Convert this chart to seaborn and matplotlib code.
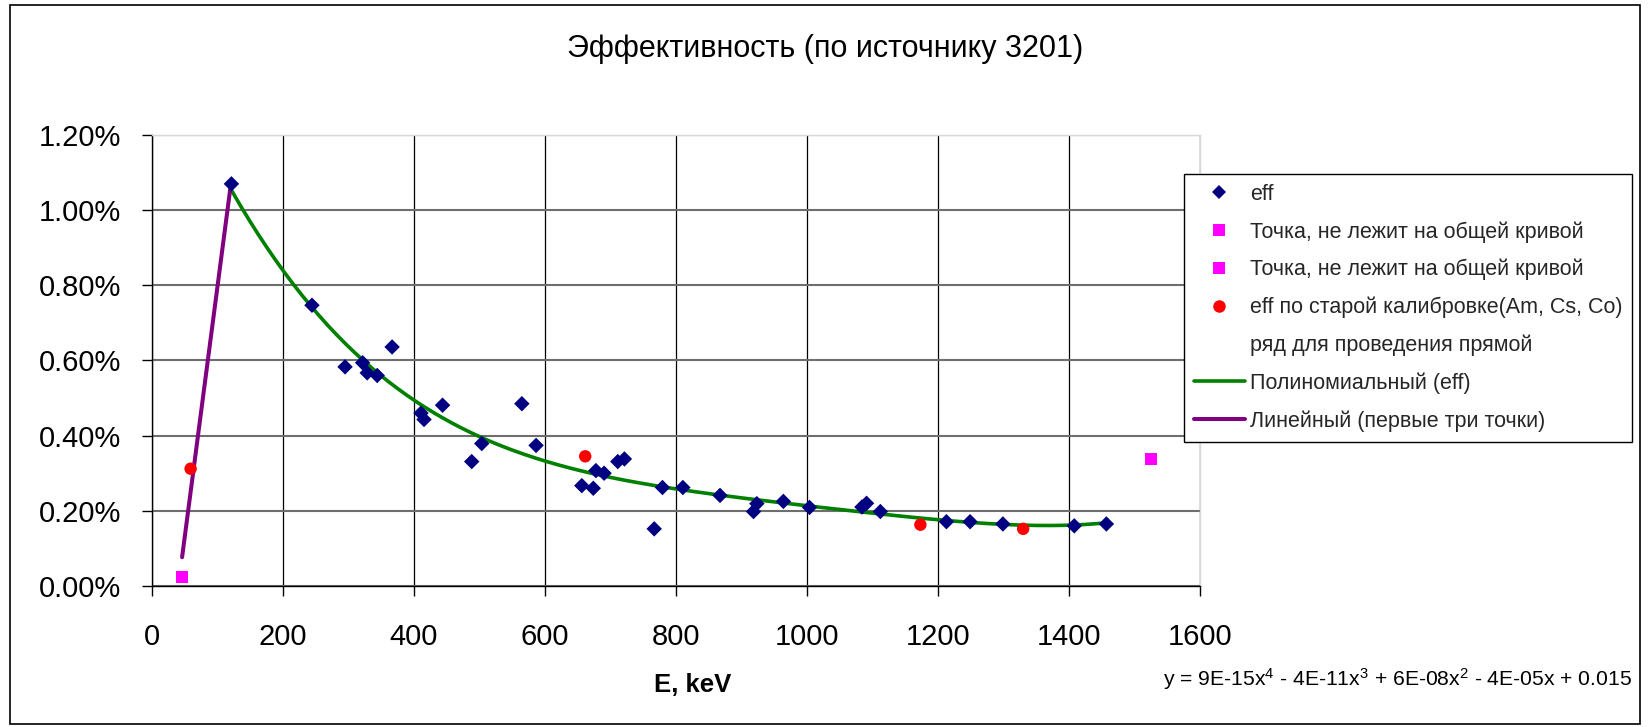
import numpy as np
import pandas as pd
import matplotlib
matplotlib.use("Agg")
import matplotlib.pyplot as plt
import seaborn as sns
from matplotlib.ticker import PercentFormatter, MultipleLocator
from matplotlib.lines import Line2D
from matplotlib.patches import Rectangle

# --- measured efficiencies (energy in keV, efficiency in %) ---
eff_energy = [121.8, 244.7, 295.2, 322.0, 329.0, 344.3, 367.0, 411.1, 415.7, 444.0,
              488.5, 503.8, 565.0, 586.7, 656.5, 674.0, 678.0, 690.5, 711.4, 721.5,
              767.0, 779.6, 810.7, 867.4, 918.5, 923.6, 964.1, 1004.0, 1084.0, 1091.0,
              1112.1, 1212.9, 1249.0, 1299.1, 1408.0, 1457.0]
eff_percent = [1.070, 0.747, 0.583, 0.594, 0.567, 0.560, 0.636, 0.460, 0.443, 0.481,
               0.331, 0.379, 0.485, 0.374, 0.267, 0.260, 0.307, 0.300, 0.331, 0.338,
               0.152, 0.262, 0.262, 0.241, 0.198, 0.219, 0.225, 0.209, 0.210, 0.220,
               0.198, 0.171, 0.171, 0.165, 0.160, 0.165]

# points that fall off the common curve
outlier1_energy = [46.5]
outlier1_percent = [0.025]
outlier2_energy = [1525.0]
outlier2_percent = [0.339]

# efficiency from the old calibration (Am, Cs, Co)
old_energy = [59.5, 661.7, 1173.2, 1330.0]
old_percent = [0.312, 0.345, 0.163, 0.152]

# helper series used for the straight line (first three points)
line_energy = [46.5, 59.5, 121.8]
line_percent = [0.025, 0.312, 1.070]

title = "Эффективность (по источнику 3201)"
x_label = "E, keV"
legend_labels = ["eff",
                 "Точка, не лежит на общей кривой",
                 "Точка, не лежит на общей кривой",
                 "eff по старой калибровке(Am, Cs, Co)",
                 "ряд для проведения прямой",
                 "Полиномиальный (eff)",
                 "Линейный (первые три точки)"]
equation = "y = 9E-15x$^4$ - 4E-11x$^3$ + 6E-08x$^2$ - 4E-05x + 0.015"

# --- data frames (efficiency as a fraction) ---
eff = pd.DataFrame({"E": eff_energy, "eff": np.array(eff_percent) / 100})
out1 = pd.DataFrame({"E": outlier1_energy, "eff": np.array(outlier1_percent) / 100})
out2 = pd.DataFrame({"E": outlier2_energy, "eff": np.array(outlier2_percent) / 100})
old = pd.DataFrame({"E": old_energy, "eff": np.array(old_percent) / 100})
ln = pd.DataFrame({"E": line_energy, "eff": np.array(line_percent) / 100})

# trend lines: 4th-order polynomial on eff, linear on the helper series
poly = np.polyfit(eff["E"], eff["eff"], 4)
xp = np.linspace(eff["E"].min(), eff["E"].max(), 300)
poly_df = pd.DataFrame({"E": xp, "eff": np.polyval(poly, xp)})
lin = np.polyfit(ln["E"], ln["eff"], 1)
xl = np.array([ln["E"].min(), ln["E"].max()])
lin_df = pd.DataFrame({"E": xl, "eff": np.polyval(lin, xl)})

sns.set_theme(style="white")
plt.rcParams["font.family"] = ["Liberation Sans", "DejaVu Sans"]
plt.rcParams["mathtext.fontset"] = "custom"
plt.rcParams["mathtext.rm"] = "Liberation Sans"
plt.rcParams["mathtext.it"] = "Liberation Sans"

fig = plt.figure(figsize=(16.48, 7.27), dpi=100)
ax = fig.add_axes([0.0920, 0.1940, 0.6362, 0.6203])

navy, magenta, red = "#000080", "#FF00FF", "#FF0000"
green, purple = "#008000", "#800080"

sns.lineplot(data=poly_df, x="E", y="eff", color=green, lw=2.6, ax=ax,
             sort=False, estimator=None, zorder=3, legend=False)
sns.lineplot(data=lin_df, x="E", y="eff", color=purple, lw=2.9, ax=ax,
             sort=False, estimator=None, zorder=3, legend=False)
sns.scatterplot(data=eff, x="E", y="eff", marker="D", color=navy, s=62,
                edgecolor="none", ax=ax, zorder=4, legend=False)
sns.scatterplot(data=out1, x="E", y="eff", marker="s", color=magenta, s=75,
                edgecolor="none", ax=ax, zorder=4, legend=False)
sns.scatterplot(data=out2, x="E", y="eff", marker="s", color=magenta, s=75,
                edgecolor="none", ax=ax, zorder=4, legend=False)
sns.scatterplot(data=old, x="E", y="eff", marker="o", color=red, s=80,
                edgecolor="none", ax=ax, zorder=4, legend=False)

ax.set_xlim(0, 1600)
ax.set_ylim(0, 0.012)
ax.xaxis.set_major_locator(MultipleLocator(200))
ax.yaxis.set_major_locator(MultipleLocator(0.002))
ax.yaxis.set_major_formatter(PercentFormatter(xmax=1, decimals=2))

ax.set_axisbelow(True)
ax.yaxis.grid(True, color="#6e6e6e", lw=1.5)
ax.xaxis.grid(True, color="black", lw=0.9)
for side in ("top", "right"):
    ax.spines[side].set_color("#d8d8d8")
    ax.spines[side].set_linewidth(1)
for side in ("left", "bottom"):
    ax.spines[side].set_color("black")
    ax.spines[side].set_linewidth(1)

ax.tick_params(axis="both", which="major", bottom=True, left=True,
               direction="out", length=7, width=1, color="black",
               labelsize=21, labelcolor="black")
ax.tick_params(axis="y", pad=15)
ax.tick_params(axis="x", pad=20)

ax.set_ylabel("")
ax.set_xlabel(x_label, fontsize=18.5, fontweight="bold", color="black")
ax.xaxis.set_label_coords((693 - 151.7) / 1048.3, (586 - 685) / 451)
ax.xaxis.label.set_va("center")

handles = [
    Line2D([], [], ls="none", marker="D", color=navy, markersize=7.5, markeredgewidth=0),
    Line2D([], [], ls="none", marker="s", color=magenta, markersize=8.5, markeredgewidth=0),
    Line2D([], [], ls="none", marker="s", color=magenta, markersize=8.5, markeredgewidth=0),
    Line2D([], [], ls="none", marker="o", color=red, markersize=9, markeredgewidth=0),
    Line2D([], [], ls="none", marker=None),
    Line2D([], [], color=green, lw=2.6),
    Line2D([], [], color=purple, lw=2.9),
]
leg = ax.legend(handles, legend_labels, loc="upper left",
                bbox_to_anchor=(1184 / 1648, 1 - 174 / 727),
                bbox_transform=fig.transFigure, fontsize=15.5, frameon=True,
                fancybox=False, framealpha=1, edgecolor="black",
                handlelength=2.37, handletextpad=0.25, labelspacing=0.76,
                borderpad=0.45, borderaxespad=0)
leg.get_frame().set_linewidth(1)
leg.set_zorder(10)

fig.text(825 / 1648, 1 - 49 / 727, title, ha="center", va="center",
         fontsize=22, color="black")
fig.text(1632 / 1648, 1 - 679 / 727, equation, ha="right", va="center",
         fontsize=15.2, color="black")

fig.patches.append(Rectangle((10 / 1648, 3 / 727), 1630 / 1648, 719 / 727,
                             transform=fig.transFigure, fill=False,
                             edgecolor="black", lw=1.2))

fig.savefig("out.png", dpi=100, facecolor="white")
